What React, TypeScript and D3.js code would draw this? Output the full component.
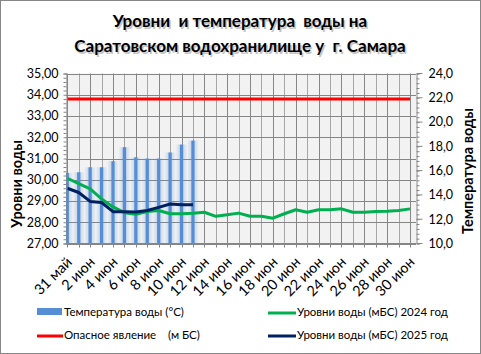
import * as d3 from "d3";
import { useEffect, useRef } from "react";

const days = [
  "31 май", "1 июн", "2 июн", "3 июн", "4 июн", "5 июн", "6 июн", "7 июн",
  "8 июн", "9 июн", "10 июн", "11 июн", "12 июн", "13 июн", "14 июн", "15 июн",
  "16 июн", "17 июн", "18 июн", "19 июн", "20 июн", "21 июн", "22 июн", "23 июн",
  "24 июн", "25 июн", "26 июн", "27 июн", "28 июн", "29 июн", "30 июн",
];
const xTickLabels = [
  "31 май", "2 июн", "4 июн", "6 июн", "8 июн", "10 июн", "12 июн", "14 июн",
  "16 июн", "18 июн", "20 июн", "22 июн", "24 июн", "26 июн", "28 июн", "30 июн",
];
const waterTemp = [15.82, 15.87, 16.28, 16.28, 16.78, 17.93, 17.1, 17.0, 17.0, 17.5, 18.15, 18.48];
const level2024 = [
  30.07, 29.82, 29.57, 29.1, 28.72, 28.45, 28.38, 28.5, 28.55, 28.4, 28.4, 28.42,
  28.47, 28.28, 28.35, 28.43, 28.28, 28.28, 28.19, 28.4, 28.59, 28.47, 28.59, 28.59,
  28.63, 28.47, 28.47, 28.51, 28.52, 28.55, 28.63,
];
const level2025 = [29.6, 29.4, 28.98, 28.93, 28.5, 28.5, 28.48, 28.55, 28.7, 28.86, 28.82, 28.82];
const dangerLevel = days.map(() => 33.8);
const leftTicks = [27, 28, 29, 30, 31, 32, 33, 34, 35];
const rightTicks = [10, 12, 14, 16, 18, 20, 22, 24];

const FONT = "Lato, 'Open Sans', sans-serif";

const App = () => {
  const ref = useRef<SVGSVGElement>(null);

  useEffect(() => {
    const svg = d3.select(ref.current);
    svg.selectAll("*").remove();

    const plot = { left: 66, right: 416, top: 73.5, bottom: 243.5 };

    const x = d3.scaleLinear().domain([0, days.length - 1]).range([67.3, 410]);
    const yL = d3.scaleLinear().domain([27, 35]).range([plot.bottom, plot.top]);
    const yR = d3.scaleLinear().domain([10, 24]).range([plot.bottom, plot.top]);

    const defs = svg.append("defs");
    defs.append("clipPath").attr("id", "plotClip")
      .append("rect")
      .attr("x", plot.left).attr("y", plot.top)
      .attr("width", plot.right - plot.left).attr("height", plot.bottom - plot.top);

    const grad = defs.append("linearGradient").attr("id", "barGrad")
      .attr("x1", "0%").attr("x2", "100%").attr("y1", "0%").attr("y2", "0%");
    [[0, 0.04], [0.3, 0.22], [0.4, 1], [0.6, 1], [0.7, 0.22], [1, 0.04]].forEach(([o, a]) => {
      grad.append("stop").attr("offset", o).attr("stop-color", "#558ed5").attr("stop-opacity", a);
    });

    // outer frame
    svg.append("rect")
      .attr("x", 0.5).attr("y", 0.5).attr("width", 480).attr("height", 353)
      .attr("fill", "white").attr("stroke", "#868686");

    // title
    const title = ["Уровни  и температура  воды на", "Саратовском водохранилище у  г. Самара"];
    title.forEach((t, i) => {
      svg.append("text")
        .attr("x", 241.5).attr("y", 28.5 + i * 25)
        .attr("text-anchor", "middle")
        .attr("font-family", FONT).attr("font-weight", "bold").attr("font-size", 17)
        .attr("fill", "#a0a0a0").attr("opacity", 0.6)
        .style("white-space", "pre")
        .text(t);
      svg.append("text")
        .attr("x", 240).attr("y", 27 + i * 25)
        .attr("text-anchor", "middle")
        .attr("font-family", FONT).attr("font-weight", "bold").attr("font-size", 17)
        .attr("fill", "#000")
        .style("white-space", "pre")
        .text(t);
    });

    // plot background
    svg.append("rect")
      .attr("x", plot.left).attr("y", plot.top)
      .attr("width", plot.right - plot.left).attr("height", plot.bottom - plot.top)
      .attr("fill", "#f2f2f2");

    // gridlines
    const grid = svg.append("g");
    grid.selectAll("line.v")
      .data(days.map((_, i) => i))
      .enter().append("line")
      .attr("x1", d => Math.round(x(d)) + 0.5).attr("x2", d => Math.round(x(d)) + 0.5)
      .attr("y1", plot.top).attr("y2", plot.bottom)
      .attr("stroke", d => (d % 2 === 0 ? "#868686" : "#a6a6a6"))
      .attr("stroke-width", 1);
    grid.selectAll("line.h")
      .data(leftTicks)
      .enter().append("line")
      .attr("x1", plot.left).attr("x2", plot.right)
      .attr("y1", d => Math.round(yL(d)) + 0.5).attr("y2", d => Math.round(yL(d)) + 0.5)
      .attr("stroke", "#868686");

    const clipped = svg.append("g").attr("clip-path", "url(#plotClip)");

    // temperature bars
    clipped.selectAll("rect.bar")
      .data(waterTemp)
      .enter().append("rect")
      .attr("x", (_, i) => x(i) - 5.5)
      .attr("width", 11)
      .attr("y", d => yR(d))
      .attr("height", d => plot.bottom - yR(d))
      .attr("fill", "url(#barGrad)");

    const line = d3.line<number>().x((_, i) => x(i));

    clipped.append("path")
      .attr("d", line.y(d => yL(d))(dangerLevel))
      .attr("fill", "none").attr("stroke", "#ff0000").attr("stroke-width", 3);
    clipped.append("path")
      .attr("d", line.y(d => yL(d))(level2024))
      .attr("fill", "none").attr("stroke", "#00b050").attr("stroke-width", 3)
      .attr("stroke-linejoin", "round");
    clipped.append("path")
      .attr("d", line.y(d => yL(d))(level2025))
      .attr("fill", "none").attr("stroke", "#002060").attr("stroke-width", 3)
      .attr("stroke-linejoin", "round");

    // axes
    const axisColor = "#868686";
    const fmtL = (v: number) => d3.format(".2f")(v).replace(".", ",");
    const fmtR = (v: number) => d3.format(".1f")(v).replace(".", ",");

    const left = svg.append("g").attr("transform", `translate(${plot.left + 0.5},0)`);
    d3.axisLeft(yL).tickValues(d3.range(27, 35.01, 0.2)).tickSize(3).tickFormat(() => "")(left);
    left.select(".domain").attr("stroke", axisColor);
    left.selectAll(".tick line").attr("stroke", axisColor);
    leftTicks.forEach(v => {
      left.append("text")
        .attr("x", -8).attr("y", yL(v)).attr("dy", "0.35em")
        .attr("text-anchor", "end")
        .attr("font-family", FONT).attr("font-size", 12.5).attr("fill", "#000")
        .text(fmtL(v));
    });

    const right = svg.append("g").attr("transform", `translate(${plot.right + 0.5},0)`);
    d3.axisRight(yR).tickValues(d3.range(10, 24.01, 0.4)).tickSize(3).tickFormat(() => "")(right);
    right.select(".domain").attr("stroke", axisColor);
    right.selectAll(".tick line").attr("stroke", axisColor);
    rightTicks.forEach(v => {
      right.append("line")
        .attr("x1", 0).attr("x2", 6).attr("y1", yR(v)).attr("y2", yR(v))
        .attr("stroke", axisColor);
      right.append("text")
        .attr("x", 12).attr("y", yR(v)).attr("dy", "0.35em")
        .attr("font-family", FONT).attr("font-size", 12.5).attr("fill", "#000")
        .text(fmtR(v));
    });

    const bottom = svg.append("g").attr("transform", `translate(0,${plot.bottom})`);
    bottom.append("line")
      .attr("x1", plot.left).attr("x2", plot.right)
      .attr("stroke", axisColor);
    bottom.selectAll("line.t")
      .data(days.map((_, i) => i))
      .enter().append("line")
      .attr("x1", d => Math.round(x(d)) + 0.5).attr("x2", d => Math.round(x(d)) + 0.5)
      .attr("y1", 0).attr("y2", 4)
      .attr("stroke", axisColor);
    bottom.selectAll("text")
      .data(xTickLabels)
      .enter().append("text")
      .attr("transform", d => `translate(${x(days.indexOf(d)) + 2},16) rotate(-45)`)
      .attr("text-anchor", "end")
      .attr("dy", "0.35em")
      .attr("font-family", FONT).attr("font-size", 14.5).attr("fill", "#000")
      .text(d => d);

    // axis titles
    svg.append("text")
      .attr("transform", "translate(22,184) rotate(-90)")
      .attr("text-anchor", "middle")
      .attr("font-family", FONT).attr("font-weight", "bold").attr("font-size", 14.5)
      .text("Уровни воды");
    svg.append("text")
      .attr("transform", "translate(473,171) rotate(-90)")
      .attr("text-anchor", "middle")
      .attr("font-family", FONT).attr("font-weight", "bold").attr("font-size", 14.5)
      .text("Температура воды");

    // legend
    const legend = svg.append("g").attr("font-family", FONT).attr("font-size", 11.5);
    legend.append("rect")
      .attr("x", 37).attr("y", 308).attr("width", 25).attr("height", 7)
      .attr("fill", "#558ed5");
    legend.append("text").attr("x", 64).attr("y", 312).attr("dy", "0.35em")
      .text("Температура воды (°С)");
    legend.append("line")
      .attr("x1", 37).attr("x2", 63).attr("y1", 336).attr("y2", 336)
      .attr("stroke", "#ff0000").attr("stroke-width", 3);
    legend.append("text").attr("x", 64).attr("y", 335).attr("dy", "0.35em")
      .style("white-space", "pre")
      .text("Опасное явление    (м БС)");
    legend.append("line")
      .attr("x1", 268).attr("x2", 296).attr("y1", 313).attr("y2", 313)
      .attr("stroke", "#00b050").attr("stroke-width", 3);
    legend.append("text").attr("x", 297).attr("y", 312).attr("dy", "0.35em")
      .text("Уровни воды (мБС) 2024 год");
    legend.append("line")
      .attr("x1", 268).attr("x2", 296).attr("y1", 336).attr("y2", 336)
      .attr("stroke", "#002060").attr("stroke-width", 3);
    legend.append("text").attr("x", 297).attr("y", 335).attr("dy", "0.35em")
      .text("Уровни воды (мБС) 2025 год");
  });

  return (
    <svg
      ref={ref}
      width={481}
      height={354}
      style={{ position: "absolute", left: 0, top: 0, display: "block" }}
    />
  );
};

export default App;
